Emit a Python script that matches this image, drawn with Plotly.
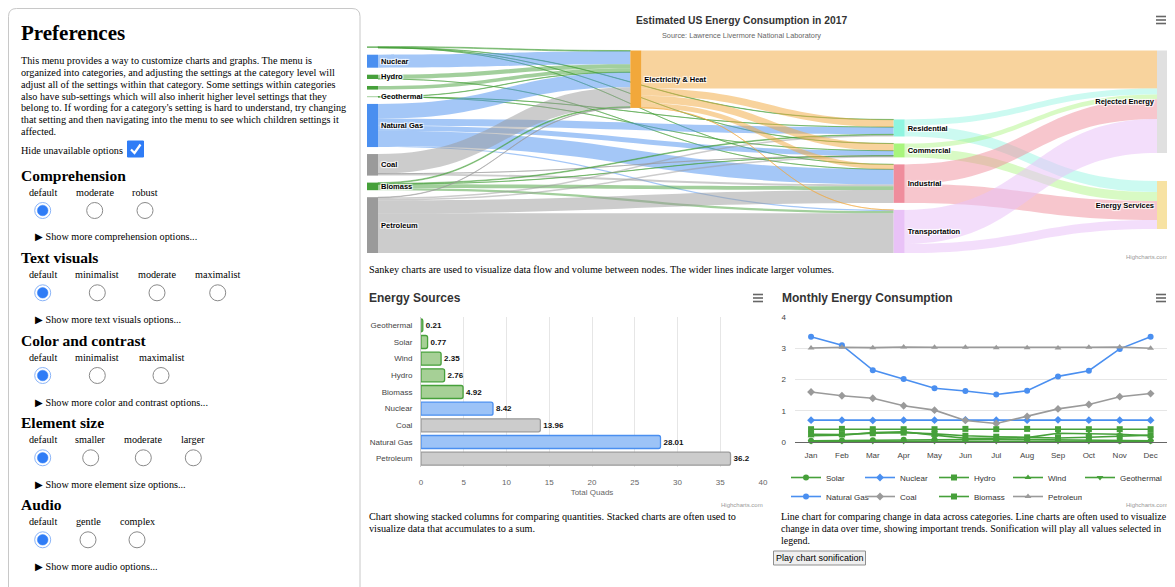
import plotly.graph_objects as go

W, H = 1175, 587
OFF = 8  # the page body adds an 8px margin around the figure
SANS = "Liberation Sans, Arial, sans-serif"
SERIF = "Liberation Serif, Times New Roman, serif"


def px(x):
    return max(0.0, (x - OFF) / W)


def py(y):
    return 1 - (y - OFF) / H


# ---------------- Sankey data ----------------
node_names = ["Solar", "Nuclear", "Hydro", "Wind", "Geothermal", "Natural Gas", "Coal",
              "Biomass", "Petroleum", "Electricity & Heat", "Residential", "Commercial",
              "Industrial", "Transportation", "Rejected Energy", "Energy Services"]
node_labels = ["", "Nuclear", "Hydro", "", "Geothermal", "Natural Gas", "Coal",
               "Biomass", "Petroleum", "Electricity & Heat", "Residential", "Commercial",
               "Industrial", "Transportation", "Rejected Energy", "Energy Services"]
link_from = ["Solar", "Solar", "Solar", "Solar",
             "Nuclear",
             "Hydro", "Hydro",
             "Wind",
             "Geothermal", "Geothermal", "Geothermal",
             "Natural Gas", "Natural Gas", "Natural Gas", "Natural Gas", "Natural Gas",
             "Coal", "Coal", "Coal",
             "Biomass", "Biomass", "Biomass", "Biomass", "Biomass",
             "Petroleum", "Petroleum", "Petroleum", "Petroleum", "Petroleum",
             "Electricity & Heat", "Electricity & Heat", "Electricity & Heat",
             "Electricity & Heat", "Electricity & Heat",
             "Residential", "Residential",
             "Commercial", "Commercial",
             "Industrial", "Industrial",
             "Transportation", "Transportation"]
link_to = ["Electricity & Heat", "Residential", "Commercial", "Industrial",
           "Electricity & Heat",
           "Electricity & Heat", "Industrial",
           "Electricity & Heat",
           "Electricity & Heat", "Residential", "Commercial",
           "Electricity & Heat", "Residential", "Commercial", "Industrial", "Transportation",
           "Electricity & Heat", "Commercial", "Industrial",
           "Electricity & Heat", "Residential", "Commercial", "Industrial", "Transportation",
           "Electricity & Heat", "Residential", "Commercial", "Industrial", "Transportation",
           "Residential", "Commercial", "Industrial", "Transportation", "Rejected Energy",
           "Rejected Energy", "Energy Services",
           "Rejected Energy", "Energy Services",
           "Rejected Energy", "Energy Services",
           "Rejected Energy", "Energy Services"]
link_value = [0.53, 0.19, 0.05, 0.01,
              8.42,
              2.76, 0.01,
              2.35,
              0.15, 0.04, 0.02,
              9.54, 4.64, 3.27, 9.73, 0.76,
              12.7, 0.02, 1.24,
              0.52, 0.45, 0.12, 2.38, 1.45,
              0.24, 0.97, 0.91, 8.34, 25.7,
              4.75, 4.61, 3.23, 0.03, 24.59,
              3.86, 7.18,
              3.15, 5.85,
              12.72, 12.22,
              22.07, 5.87]

# column membership (top-to-bottom order) of the sankey nodes
sankey_columns = [
    ["Solar", "Nuclear", "Hydro", "Wind", "Geothermal", "Natural Gas", "Coal", "Biomass", "Petroleum"],
    ["Electricity & Heat"],
    ["Residential", "Commercial", "Industrial", "Transportation"],
    ["Rejected Energy", "Energy Services"],
]

node_color = {
    "Solar": "#46a03a", "Nuclear": "#4a8ff0", "Hydro": "#46a03a", "Wind": "#46a03a",
    "Geothermal": "#46a03a", "Natural Gas": "#4a8ff0", "Coal": "#9a9a9a", "Biomass": "#46a03a",
    "Petroleum": "#9a9a9a", "Electricity & Heat": "#f2a83b", "Residential": "#8ff5e0",
    "Commercial": "#a8f57c", "Industrial": "#ef8d9c", "Transportation": "#e9c2f7",
    "Rejected Energy": "#e0e0e0", "Energy Services": "#f7e2a2"}
link_rgba = {
    "Solar": "rgba(70,160,58,0.5)", "Nuclear": "rgba(74,143,240,0.5)",
    "Hydro": "rgba(70,160,58,0.5)", "Wind": "rgba(70,160,58,0.5)",
    "Geothermal": "rgba(70,160,58,0.5)", "Natural Gas": "rgba(74,143,240,0.5)",
    "Coal": "rgba(154,154,154,0.5)", "Biomass": "rgba(70,160,58,0.5)",
    "Petroleum": "rgba(154,154,154,0.5)", "Electricity & Heat": "rgba(242,168,59,0.5)",
    "Residential": "rgba(143,245,224,0.45)", "Commercial": "rgba(168,245,124,0.45)",
    "Industrial": "rgba(239,141,156,0.5)", "Transportation": "rgba(233,194,247,0.55)"}

# ---------------- Bar data ----------------
bar_categories = ["Geothermal", "Solar", "Wind", "Hydro", "Biomass", "Nuclear", "Coal",
                  "Natural Gas", "Petroleum"]
bar_values = [0.21, 0.77, 2.35, 2.76, 4.92, 8.42, 13.96, 28.01, 36.2]
bar_group = ["green", "green", "green", "green", "green", "blue", "grey", "blue", "grey"]
group_fill = {"green": "#a6d096", "blue": "#9cc3f7", "grey": "#cccccc"}
group_line = {"green": "#46a03a", "blue": "#4a8ff0", "grey": "#9a9a9a"}

# ---------------- Line data ----------------
months = ["Jan", "Feb", "Mar", "Apr", "May", "Jun", "Jul", "Aug", "Sep", "Oct", "Nov", "Dec"]
solar = [0.04, 0.05, 0.06, 0.07, 0.08, 0.09, 0.09, 0.08, 0.07, 0.06, 0.04, 0.04]
nuclear = [0.70, 0.70, 0.69, 0.70, 0.70, 0.71, 0.70, 0.70, 0.71, 0.70, 0.70, 0.70]
hydro = [0.25, 0.24, 0.28, 0.30, 0.26, 0.20, 0.17, 0.15, 0.13, 0.15, 0.18, 0.22]
wind = [0.20, 0.22, 0.30, 0.33, 0.22, 0.12, 0.12, 0.14, 0.28, 0.26, 0.25, 0.20]
geothermal = [0.02, 0.02, 0.02, 0.02, 0.02, 0.02, 0.02, 0.02, 0.02, 0.02, 0.02, 0.02]
natural_gas = [3.37, 3.10, 2.30, 2.02, 1.72, 1.63, 1.52, 1.64, 2.10, 2.28, 2.98, 3.37]
coal = [1.60, 1.48, 1.40, 1.16, 1.02, 0.69, 0.59, 0.82, 1.06, 1.20, 1.45, 1.55]
biomass = [0.41, 0.42, 0.41, 0.41, 0.41, 0.42, 0.41, 0.42, 0.41, 0.41, 0.41, 0.41]
petroleum = [3.01, 3.03, 3.02, 3.04, 3.03, 3.03, 3.02, 3.02, 3.01, 3.03, 3.04, 3.00]

GREEN, BLUE, GREY = "#46a03a", "#4a8ff0", "#9a9a9a"
# (name, values, colour, marker, legend column, legend)
line_series = [
    ("Solar", solar, GREEN, "circle", "c1", "legend"),
    ("Nuclear", nuclear, BLUE, "diamond", "c2", "legend"),
    ("Hydro", hydro, GREEN, "square", "c3", "legend"),
    ("Wind", wind, GREEN, "triangle-up", "c4", "legend"),
    ("Geothermal", geothermal, GREEN, "triangle-down", "c5", "legend2"),
    ("Natural Gas", natural_gas, BLUE, "circle", "c1", "legend"),
    ("Coal", coal, GREY, "diamond", "c2", "legend"),
    ("Biomass", biomass, GREEN, "square", "c3", "legend"),
    ("Petroleum", petroleum, GREY, "triangle-up", "c4", "legend"),
]

fig = go.Figure()

# ---- Sankey layout computed from the data ----
SK_TOP, SK_BOT, SK_LEFT, SK_RIGHT = 46.5, 253, 367, 1168
SK_PAD, SK_THICK = 7, 11
dom_h = SK_BOT - SK_TOP
dom_w = SK_RIGHT - SK_LEFT
inflow = {n: 0.0 for n in node_names}
outflow = {n: 0.0 for n in node_names}
for s, t, v in zip(link_from, link_to, link_value):
    outflow[s] += v
    inflow[t] += v
node_val = {n: max(inflow[n], outflow[n]) for n in node_names}
ky = (dom_h - (len(sankey_columns[0]) - 1) * SK_PAD) / sum(node_val[n] for n in sankey_columns[0])
centre_y = {}
cur = 0.0
for n in sankey_columns[0]:
    h = node_val[n] * ky
    centre_y[n] = cur + h / 2
    cur += h + SK_PAD
for n in sankey_columns[1]:
    centre_y[n] = 4 + node_val[n] * ky / 2
cur = dom_h
for n in reversed(sankey_columns[2]):
    h = node_val[n] * ky
    centre_y[n] = cur - h / 2
    cur -= h + SK_PAD
cur = 4.0
for n in sankey_columns[3]:
    h = node_val[n] * ky
    centre_y[n] = cur + h / 2
    cur += h + 4 * SK_PAD
col_x = {}
ncol = len(sankey_columns)
for ci, col in enumerate(sankey_columns):
    xc = SK_THICK / 2 + ci * (dom_w - SK_THICK) / (ncol - 1)
    for n in col:
        col_x[n] = xc

idx = {n: i for i, n in enumerate(node_names)}
fig.add_trace(go.Sankey(
    domain=dict(x=[px(SK_LEFT), px(SK_RIGHT)], y=[py(SK_BOT), py(SK_TOP)]),
    arrangement="fixed",
    node=dict(label=node_labels, color=[node_color[n] for n in node_names],
              pad=SK_PAD, thickness=SK_THICK, line=dict(width=0),
              x=[col_x[n] / dom_w for n in node_names],
              y=[centre_y[n] / dom_h for n in node_names]),
    link=dict(source=[idx[s] for s in link_from], target=[idx[t] for t in link_to],
              value=link_value, color=[link_rgba[s] for s in link_from]),
    textfont=dict(family=SANS, size=7.5, color="#000", weight="bold"),
))

# ---- Bar chart ----
fig.add_trace(go.Bar(
    x=bar_values, y=bar_categories, orientation="h",
    marker=dict(color=[group_fill[g] for g in bar_group],
                line=dict(color=[group_line[g] for g in bar_group], width=1.3),
                cornerradius=2),
    text=[f"<b>{v:g}</b>" for v in bar_values], textposition="outside",
    textfont=dict(family=SANS, size=8, color="#111"), cliponaxis=False,
    xaxis="x", yaxis="y", showlegend=False, width=0.78,
))

# ---- Line chart ----
for name, vals, col, sym, grp, leg in line_series:
    fig.add_trace(go.Scatter(
        x=months, y=vals, name=name, mode="lines+markers", legendgroup=grp, legend=leg,
        line=dict(color=col, width=1.6),
        marker=dict(color=col, symbol=sym, size=6),
        xaxis="x2", yaxis="y2", cliponaxis=False,
    ))

shapes = []
ann = []


def text(x, y, s, size=10, family=SERIF, color="#000", anchor="left", bold=False):
    ann.append(dict(x=px(x), y=py(y), xref="paper", yref="paper", text=(f"<b>{s}</b>" if bold else s),
                    showarrow=False, xanchor=anchor, yanchor="middle",
                    font=dict(family=family, size=size, color=color)))


def circle(cx, cy, r, fill, line, lw=1):
    shapes.append(dict(type="circle", xref="paper", yref="paper",
                       x0=px(cx - r), x1=px(cx + r), y0=py(cy + r), y1=py(cy - r),
                       fillcolor=fill, line=dict(color=line, width=lw)))


# ---- Left panel ----
r = 8
x0, x1, y0, y1 = 8.5, 360, 8.5, 600
path = (f"M {px(x0)},{py(y1)} L {px(x0)},{py(y0 + r)} Q {px(x0)},{py(y0)} {px(x0 + r)},{py(y0)} "
        f"L {px(x1 - r)},{py(y0)} Q {px(x1)},{py(y0)} {px(x1)},{py(y0 + r)} L {px(x1)},{py(y1)}")
shapes.append(dict(type="path", xref="paper", yref="paper", path=path,
                   line=dict(color="#c8c8c8", width=1)))

text(19, 33, "Preferences", size=21, bold=True)
para = [
    "This menu provides a way to customize charts and graphs. The menu is",
    "organized into categories, and adjusting the settings at the category level will",
    "adjust all of the settings within that category. Some settings within categories",
    "also have sub-settings which will also inherit higher level settings that they",
    "belong to. If wording for a category's setting is hard to understand, try changing",
    "that setting and then navigating into the menu to see which children settings it",
    "affected.",
]
for i, line in enumerate(para):
    text(19, 61 + i * 11.67, line, size=10.2)
text(19, 150.5, "Hide unavailable options", size=10.2)
shapes.append(dict(type="rect", xref="paper", yref="paper", x0=px(127.5), x1=px(143.5),
                   y0=py(157), y1=py(141), fillcolor="#2f7cf6", line=dict(color="#2f7cf6", width=1)))
shapes.append(dict(type="path", xref="paper", yref="paper",
                   path=f"M {px(131)},{py(149.5)} L {px(134.5)},{py(153)} L {px(140.5)},{py(144.5)}",
                   line=dict(color="white", width=2.2)))

sections = [
    ("Comprehension", 175, ["default", "moderate", "robust"], [42.7, 94.7, 145], "comprehension"),
    ("Text visuals", 257.3, ["default", "minimalist", "moderate", "maximalist"],
     [42.7, 97.3, 157, 217.7], "text visuals"),
    ("Color and contrast", 340, ["default", "minimalist", "maximalist"], [42.7, 97.3, 161],
     "color and contrast"),
    ("Element size", 422.3, ["default", "smaller", "moderate", "larger"],
     [42.7, 90.7, 143.3, 193.3], "element size"),
    ("Audio", 504.3, ["default", "gentle", "complex"], [42.7, 88, 137], "audio"),
]
for title, hy, opts, xs, low in sections:
    text(19, hy, title, size=15.5, bold=True)
    for j, (o, xx) in enumerate(zip(opts, xs)):
        text(xx, hy + 17.3, o, size=10.2, anchor="center")
        if j == 0:
            circle(xx, hy + 35.5, 8, "white", "#8ab4f8", 1)
            circle(xx, hy + 35.5, 5.3, "#2f7cf6", "#2f7cf6", 0.5)
        else:
            circle(xx, hy + 35.5, 8, "white", "#8a8a8a", 1)
    text(33, hy + 62, f"\u25B6 Show more {low} options...", size=10.2)

# ---- Sankey headers ----
text(741, 20, "Estimated US Energy Consumption in 2017", size=10.3, family=SANS, color="#333",
     anchor="center", bold=True)
text(741, 35, "Source: Lawrence Livermore National Laboratory", size=7.3, family=SANS,
     color="#666", anchor="center")
text(1170, 257, "Highcharts.com", size=6, family=SANS, color="#999", anchor="right")
text(367, 269, "Sankey charts are used to visualize data flow and volume between nodes. "
     "The wider lines indicate larger volumes.", size=10.2)

# ---- Bar headers ----
text(367, 298, "Energy Sources", size=12, family=SANS, color="#333", bold=True)
text(765, 505, "Highcharts.com", size=6, family=SANS, color="#999", anchor="right")
text(367, 516, "Chart showing stacked columns for comparing quantities. Stacked charts are often used to",
     size=10.2)
text(367, 528, "visualize data that accumulates to a sum.", size=10.2)

# ---- Line headers ----
text(780, 298, "Monthly Energy Consumption", size=12, family=SANS, color="#333", bold=True)
text(1170, 505, "Highcharts.com", size=6, family=SANS, color="#999", anchor="right")
text(779, 516, "Line chart for comparing change in data across categories. Line charts are often used to visualize",
     size=9.95)
text(779, 528, "change in data over time, showing important trends. Sonification will play all values selected in",
     size=9.95)
text(779, 540, "legend.", size=9.95)
shapes.append(dict(type="rect", xref="paper", yref="paper", x0=px(773.5), x1=px(865.5),
                   y0=py(565), y1=py(551), fillcolor="#efefef", line=dict(color="#8f8f8f", width=1)))
text(819.5, 558, "Play chart sonification", size=9, family=SANS, anchor="center")

# hamburger menus
for mx, my in [(1161, 20), (758, 298), (1161, 298)]:
    for k in (-3.5, 0, 3.5):
        shapes.append(dict(type="line", xref="paper", yref="paper", x0=px(mx - 5), x1=px(mx + 5),
                           y0=py(my + k), y1=py(my + k), line=dict(color="#666", width=1.6)))

legend_common = dict(orientation="h", xanchor="left", yanchor="top", itemwidth=30,
                     font=dict(size=8, color="#333"), tracegroupgap=0,
                     traceorder="grouped", groupclick="toggleitem", bgcolor="rgba(0,0,0,0)")

fig.update_layout(
    width=W, height=H, margin=dict(l=0, r=0, t=0, b=0, autoexpand=False),
    paper_bgcolor="white", plot_bgcolor="white",
    font=dict(family=SANS, size=8, color="#333"),
    shapes=shapes, annotations=ann,
    bargap=0.2,
    xaxis=dict(domain=[px(421), px(763)], range=[0, 40], dtick=5, showgrid=True,
               gridcolor="#e6e6e6", zeroline=False, tickfont=dict(size=8, color="#666"),
               ticks="", anchor="y", automargin=False, ticklabelstandoff=9,
               title=dict(text="Total Quads", font=dict(size=8, color="#666"), standoff=3)),
    yaxis=dict(domain=[py(467), py(317)], autorange="reversed", showgrid=False,
               showline=True, linecolor="#ccc", linewidth=1, tickfont=dict(size=8, color="#444"),
               ticks="", anchor="x", ticklabelstandoff=6, automargin=False),
    xaxis2=dict(domain=[px(795), px(1179)], type="category", range=[-0.52, 11.92], showgrid=False,
                tickfont=dict(size=8, color="#444"), ticks="", anchor="y2", showline=True,
                linecolor="#666", linewidth=1, ticklabelstandoff=5, automargin=False),
    yaxis2=dict(domain=[py(442), py(317)], range=[0, 4], dtick=1, showgrid=True,
                gridcolor="#e6e6e6", zeroline=False, tickfont=dict(size=8, color="#444"),
                anchor="x2", ticklabelstandoff=8, automargin=False),
    legend=dict(x=px(786), y=py(463), entrywidth=29, entrywidthmode="pixels", **legend_common),
    legend2=dict(x=px(1080), y=py(463), **legend_common),
)

fig.write_html("out.html")
